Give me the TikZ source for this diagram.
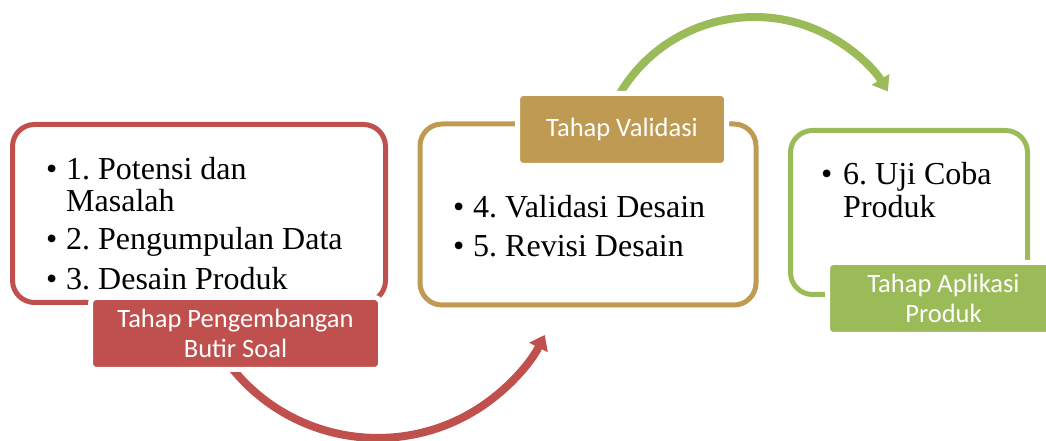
\documentclass[tikz,border=0pt]{standalone}
\usepackage{fontspec}
\setmainfont{Liberation Serif}
\newfontfamily\lblfont{Carlito}
\usetikzlibrary{arrows.meta}
\definecolor{cred}{HTML}{C0504D}
\definecolor{cgold}{HTML}{BF9A52}
\definecolor{cgreen}{HTML}{9BBB59}
\frenchspacing
\tikzset{
  stagebox/.style={draw, line width=5pt, rounded corners=22pt, inner sep=0pt},
  lbl/.style={draw=white, line width=5pt, rounded corners=6pt, text=white,
    font=\lblfont\fontsize{26.5}{30}\selectfont, align=center, inner sep=0pt},
  itm/.style={anchor=base west, inner sep=0pt, font=\fontsize{32}{32}\selectfont},
  arr/.style={line width=8pt, -{Triangle[length=14pt,width=20pt]}}
}
\begin{document}
\begin{tikzpicture}[x=1pt,y=1pt]
\useasboundingbox (0,0) rectangle (1046,441);
% stage boxes
\node[stagebox, draw=cred, minimum width=373pt, minimum height=178pt] (b1) at (199,227.5) {};
\node[stagebox, draw=cgold, minimum width=336pt, minimum height=181pt] (b2) at (588,226.5) {};
\node[stagebox, draw=cgreen, minimum width=237pt, minimum height=164pt] (b3) at (909,228.5) {};
% arrows
\coordinate (r1) at (224.5,82.8);
\draw[arr, cred] (r1) arc[start angle=215, end angle=333.3, radius=187];
\coordinate (g1) at (614.9,338.4);
\draw[arr, cgreen] (g1) arc[start angle=153, end angle=31.7, radius=156.7];
% labels
\node[lbl, fill=cred, minimum width=290pt, minimum height=72pt] (l1) at (235.5,107.5) {Tahap Pengembangan\\Butir Soal};
\node[lbl, fill=cgold, minimum width=209pt, minimum height=72pt] (l2) at (622,311.5) {Tahap Validasi};
\node[lbl, fill=cgreen, minimum width=232pt, minimum height=72pt] (l3) at (943.5,142.5) {Tahap Aplikasi\\Produk};
% box 1 items
\node[itm] (p1b) at (46,261) {\textbullet};
\node[itm] (p1) at (66,261) {1. Potensi dan};
\node[itm] (p1c) at (66,229) {Masalah};
\node[itm] (p2b) at (46,191) {\textbullet};
\node[itm] (p2) at (66,191) {2. Pengumpulan Data};
\node[itm] (p3b) at (46,151) {\textbullet};
\node[itm] (p3) at (66,151) {3. Desain Produk};
% box 2 items
\node[itm] (p4b) at (453,223) {\textbullet};
\node[itm] (p4) at (473,223) {4. Validasi Desain};
\node[itm] (p5b) at (453,184) {\textbullet};
\node[itm] (p5) at (473,184) {5. Revisi Desain};
% box 3 items
\node[itm] (p6b) at (821,256) {\textbullet};
\node[itm] (p6) at (843,256) {6. Uji Coba};
\node[itm] (p6c) at (843,223) {Produk};
\end{tikzpicture}
\end{document}
